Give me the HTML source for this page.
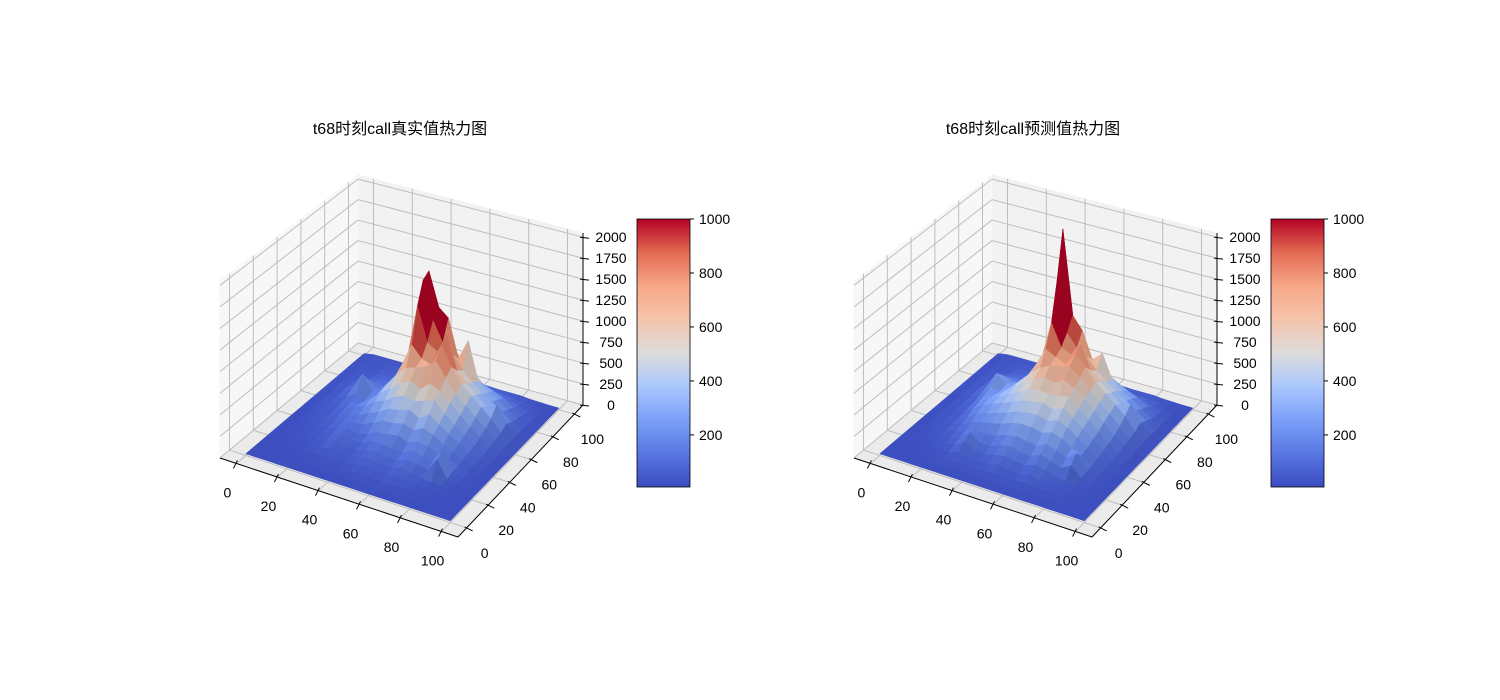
<!DOCTYPE html>
<html><head><meta charset="utf-8">
<style>
html,body{margin:0;padding:0;background:#fff;}
svg{display:block;font-family:"Liberation Sans","Noto Sans CJK SC",sans-serif;}
</style></head>
<body>
<svg id="fig" width="1500" height="700" viewBox="0 0 1500 700" xmlns="http://www.w3.org/2000/svg">
<defs>
<linearGradient id="cw" x1="0" y1="1" x2="0" y2="0">
<stop offset="0" stop-color="#3b4cc0"/><stop offset="0.125" stop-color="#5977e3"/>
<stop offset="0.25" stop-color="#7b9ff9"/><stop offset="0.375" stop-color="#aac7fd"/>
<stop offset="0.5" stop-color="#dddcdc"/><stop offset="0.625" stop-color="#f5c4ac"/>
<stop offset="0.75" stop-color="#f7a889"/><stop offset="0.875" stop-color="#e26952"/>
<stop offset="1" stop-color="#b40426"/>
</linearGradient>
</defs>
<text x="400" y="134" font-size="16" text-anchor="middle">t68时刻call真实值热力图</text>
<text x="1033" y="134" font-size="16" text-anchor="middle">t68时刻call预测值热力图</text>
<g id="left"></g>
<g id="right"></g>
</svg>
<script>
const xTicks=[0,20,40,60,80,100];
const yTicks=[0,20,40,60,80,100];
const zTicks=[0,250,500,750,1000,1250,1500,1750,2000];
const cbTicks=[200,400,600,800,1000];
const gridStep=5;
// true values: rows y=0..100 (step 5), columns x=0..100 (step 5)
const trueZ=[
[20,20,20,20,20,20,20,20,20,20,20,20,20,20,20,20,20,20,20,20,20],
[20,20,20,20,20,25,25,25,25,25,30,30,30,30,25,25,25,25,25,20,20],
[20,20,20,25,25,25,30,40,30,40,50,45,40,50,45,40,30,25,25,20,20],
[20,20,25,25,30,40,50,45,40,60,70,60,50,80,60,50,40,30,25,20,20],
[20,25,25,30,40,50,70,60,50,80,90,80,70,110,80,60,50,40,30,25,20],
[20,25,30,40,45,60,100,70,60,100,120,100,90,140,120,100,250,60,40,25,20],
[20,25,30,40,50,70,110,80,90,140,150,130,120,180,150,120,300,80,45,25,20],
[20,25,40,45,60,90,120,100,130,190,200,220,180,220,200,150,130,80,50,30,20],
[20,25,40,50,70,110,130,150,200,260,270,300,260,320,270,200,150,100,60,30,20],
[20,30,40,60,90,120,160,220,270,340,360,400,340,420,330,260,180,120,60,40,20],
[20,30,45,60,110,160,200,290,340,420,470,440,480,520,390,300,210,130,70,40,20],
[20,30,50,70,120,140,230,340,420,520,580,520,620,560,460,350,250,160,90,45,20],
[20,30,50,90,160,120,210,370,520,640,680,720,820,660,500,400,300,200,100,50,20],
[20,40,60,130,330,150,190,340,580,850,720,680,950,720,560,450,350,250,120,50,20],
[20,40,60,90,200,130,170,320,620,1250,850,780,1000,620,500,400,300,350,160,60,20],
[20,40,55,70,120,110,150,300,580,1500,1050,820,720,560,450,350,280,200,120,50,20],
[20,40,50,60,90,90,120,270,520,1550,1150,1050,600,850,400,300,250,160,90,45,20],
[20,40,45,50,70,70,110,220,420,850,720,620,500,400,300,250,200,120,70,40,20],
[20,40,45,45,60,60,90,150,270,420,370,320,270,220,170,130,110,70,50,30,20],
[20,40,40,40,50,50,60,100,140,180,160,140,120,100,90,70,60,50,40,25,20],
[20,40,40,40,40,40,45,50,60,80,60,55,50,45,40,40,40,30,25,20,20]
];
const predZ=[
[20,20,20,20,20,20,20,20,20,20,20,20,20,20,20,20,20,20,20,20,20],
[20,20,20,20,25,25,30,30,30,30,35,35,35,30,30,25,25,25,25,20,20],
[20,20,25,25,30,40,45,50,45,50,60,50,50,60,50,45,40,30,25,20,20],
[20,25,25,30,40,50,80,60,55,70,90,70,60,90,70,55,45,40,25,20,20],
[20,25,30,40,50,70,150,80,80,110,130,110,100,140,110,80,60,45,30,25,20],
[20,25,30,45,60,100,200,110,110,160,180,150,140,200,160,120,180,70,40,25,20],
[20,25,40,50,80,120,160,150,170,220,240,220,200,260,220,170,260,80,45,25,20],
[20,30,40,60,100,160,200,220,250,300,320,320,290,330,290,220,180,90,50,30,20],
[20,30,45,60,120,200,240,280,320,370,390,400,370,410,360,280,200,110,60,30,20],
[20,30,45,70,160,240,290,340,390,440,460,480,440,490,410,320,230,130,60,40,20],
[20,30,50,80,180,260,320,380,440,500,540,520,540,560,460,360,260,150,80,40,20],
[20,30,50,90,200,240,320,410,490,580,620,590,660,600,510,400,300,180,100,45,20],
[20,30,60,110,240,220,300,420,540,640,700,720,760,660,540,440,340,220,110,50,20],
[20,40,60,140,340,240,270,390,580,800,740,690,850,720,580,480,380,280,130,50,20],
[20,40,60,110,260,200,240,360,600,1050,790,740,900,620,520,420,330,360,170,60,20],
[20,40,55,80,170,150,200,320,560,1500,900,760,690,560,460,380,300,220,130,50,20],
[20,40,50,70,110,110,150,280,500,2050,1050,900,590,700,420,320,260,170,90,45,20],
[20,40,45,60,80,80,120,230,410,950,660,560,480,400,320,260,210,130,70,40,20],
[20,40,45,50,60,60,90,150,270,420,360,320,270,220,180,140,110,70,50,30,20],
[20,40,40,40,50,50,60,90,130,170,150,130,110,90,80,60,60,50,40,25,20],
[20,40,40,40,40,40,45,50,60,80,60,55,50,45,40,40,40,30,25,20,20]
];
const NS="http://www.w3.org/2000/svg";
const XMIN=-8,XMAX=108,YMIN=-8,YMAX=108,ZMAX=2050,VMIN=7,VMAX=1000;
const P00=[220,458],P10=[458,537],P01=[358,343],P11=[583,405];
const H00=177,H10=180,H01=168,H11=172;
const stops=[[0,59,76,192],[0.125,89,119,227],[0.25,123,159,249],[0.375,170,199,253],[0.5,221,220,220],[0.625,245,196,172],[0.75,247,168,137],[0.875,226,105,82],[1,180,4,38]];
function cmap(v){let t=(v-VMIN)/(VMAX-VMIN);t=Math.max(0,Math.min(1,t));
for(let k=1;k<stops.length;k++){if(t<=stops[k][0]){const a=stops[k-1],b=stops[k],f=(t-a[0])/(b[0]-a[0]);return [a[1]+f*(b[1]-a[1]),a[2]+f*(b[2]-a[2]),a[3]+f*(b[3]-a[3])];}}
return [180,4,38];}
function mk(parent,tag,attrs){const e=document.createElementNS(NS,tag);for(const k in attrs)e.setAttribute(k,attrs[k]);parent.appendChild(e);return e;}
function makeProj(ox){return function(x,y,z){const u=(x-XMIN)/(XMAX-XMIN),v=(y-YMIN)/(YMAX-YMIN);
const fx=(1-u)*(1-v)*P00[0]+u*(1-v)*P10[0]+(1-u)*v*P01[0]+u*v*P11[0];
const fy=(1-u)*(1-v)*P00[1]+u*(1-v)*P10[1]+(1-u)*v*P01[1]+u*v*P11[1];
const h=(1-u)*(1-v)*H00+u*(1-v)*H10+(1-u)*v*H01+u*v*H11;
return [fx+ox,fy-z/ZMAX*h];};}
function pts(a){return a.map(p=>p[0].toFixed(1)+","+p[1].toFixed(1)).join(" ");}
function drawAxes(g,ox,Z){
const P=makeProj(ox);
let e=mk(g,"polygon",{points:pts([P(XMIN,YMIN,0),P(XMAX,YMIN,0),P(XMAX,YMAX,0),P(XMIN,YMAX,0)]),fill:"#ebebeb",stroke:"#ebebeb"});


e=mk(g,"polygon",{points:pts([P(XMIN,YMAX,0),P(XMAX,YMAX,0),P(XMAX,YMAX,ZMAX),P(XMIN,YMAX,ZMAX)]),fill:"#f2f2f2",stroke:"#f2f2f2"});


e=mk(g,"polygon",{points:pts([P(XMIN,YMIN,0),P(XMIN,YMAX,0),P(XMIN,YMAX,ZMAX),P(XMIN,YMIN,ZMAX)]),fill:"#f7f7f7",stroke:"#f7f7f7"});


const gs={stroke:"#bdbdbd","stroke-width":"1",fill:"none"};
function line(a,b,st,name){const l=mk(g,"line",Object.assign({x1:a[0],y1:a[1],x2:b[0],y2:b[1]},st));

return l;}
xTicks.forEach(x=>{line(P(x,YMIN,0),P(x,YMAX,0),gs,'floor-gridline-x');line(P(x,YMAX,0),P(x,YMAX,ZMAX),gs,'back-gridline-x');});
yTicks.forEach(y=>{line(P(XMIN,y,0),P(XMAX,y,0),gs,'floor-gridline-y');line(P(XMIN,y,0),P(XMIN,y,ZMAX),gs,'side-gridline-y');});
zTicks.forEach(z=>{line(P(XMIN,YMAX,z),P(XMAX,YMAX,z),gs,'back-gridline-z');line(P(XMIN,YMIN,z),P(XMIN,YMAX,z),gs,'side-gridline-z');});
const as={stroke:"#000","stroke-width":"1"};
line(P(XMIN,YMIN,0),P(XMAX,YMIN,0),as,'x-axis-line');
line(P(XMAX,YMIN,0),P(XMAX,YMAX,0),as,'y-axis-line');
line(P(XMAX,YMAX,0),P(XMAX,YMAX,ZMAX),as,'z-axis-line');
xTicks.forEach(x=>{const a=P(x,YMIN,0);line([a[0]+1,a[1]-3],[a[0]-3,a[1]+5],as,'x-tick');
const t=mk(g,"text",{x:a[0]-9,y:a[1]+34,"font-size":"14","text-anchor":"middle"});t.textContent=x;

});
yTicks.forEach(y=>{const a=P(XMAX,y,0);line([a[0]-2,a[1]-1],[a[0]+6,a[1]+3],as,'y-tick');
const t=mk(g,"text",{x:a[0]+18,y:a[1]+30,"font-size":"14","text-anchor":"middle"});t.textContent=y;

});
zTicks.forEach(z=>{const a=P(XMAX,YMAX,z);line([a[0]-3,a[1]],[a[0]+6,a[1]+1],as,'z-tick');
const t=mk(g,"text",{x:a[0]+28,y:a[1]+5,"font-size":"14","text-anchor":"middle"});t.textContent=z;

});
const n=Z.length,cells=[];
for(let j=0;j<n-1;j++)for(let i=0;i<n-1;i++)cells.push([i,j]);
cells.sort((a,b)=>(0.5*a[0]-0.866*a[1])-(0.5*b[0]-0.866*b[1]));
const sg=mk(g,"g",{});


cells.forEach(([i,j])=>{const x0=i*gridStep,x1=(i+1)*gridStep,y0=j*gridStep,y1=(j+1)*gridStep;
const z00=Z[j][i],z10=Z[j][i+1],z01=Z[j+1][i],z11=Z[j+1][i+1];
const avg=(z00+z10+z01+z11)/4;let c=cmap(avg);
const dzx=((z10+z11)-(z00+z01))/2/gridStep/20,dzy=((z01+z11)-(z00+z10))/2/gridStep/20;
let nx=-dzx,ny=-dzy,nz=1;const nl=Math.hypot(nx,ny,nz);
const d=(nx*(-0.5)+ny*(0.5)+nz*0.7)/nl/Math.hypot(0.5,0.5,0.7);
const f=0.85+0.18*Math.max(0,d);c=c.map(v=>Math.min(255,Math.round(v*f)));
const col="rgb("+c.join(",")+")";
const p=mk(sg,"polygon",{points:pts([P(x0,y0,z00),P(x1,y0,z10),P(x1,y1,z11),P(x0,y1,z01)]),fill:col,stroke:col,"stroke-width":"0.6","stroke-linejoin":"round"});

});
const cx=637+ox,cy=219,cw=53,ch=268;
const r=mk(g,"rect",{x:cx,y:cy,width:cw,height:ch,fill:"url(#cw)",stroke:"#000","stroke-width":"0.8"});


cbTicks.forEach(v=>{const yy=cy+ch-(v-VMIN)/(VMAX-VMIN)*ch;
line([cx+cw,yy],[cx+cw+4,yy],as,'colorbar-tick');
const t=mk(g,"text",{x:cx+cw+9,y:yy+5,"font-size":"14"});t.textContent=v;

});
}
drawAxes(document.getElementById("left"),0,trueZ);
drawAxes(document.getElementById("right"),634,predZ);
</script>
</body></html>
